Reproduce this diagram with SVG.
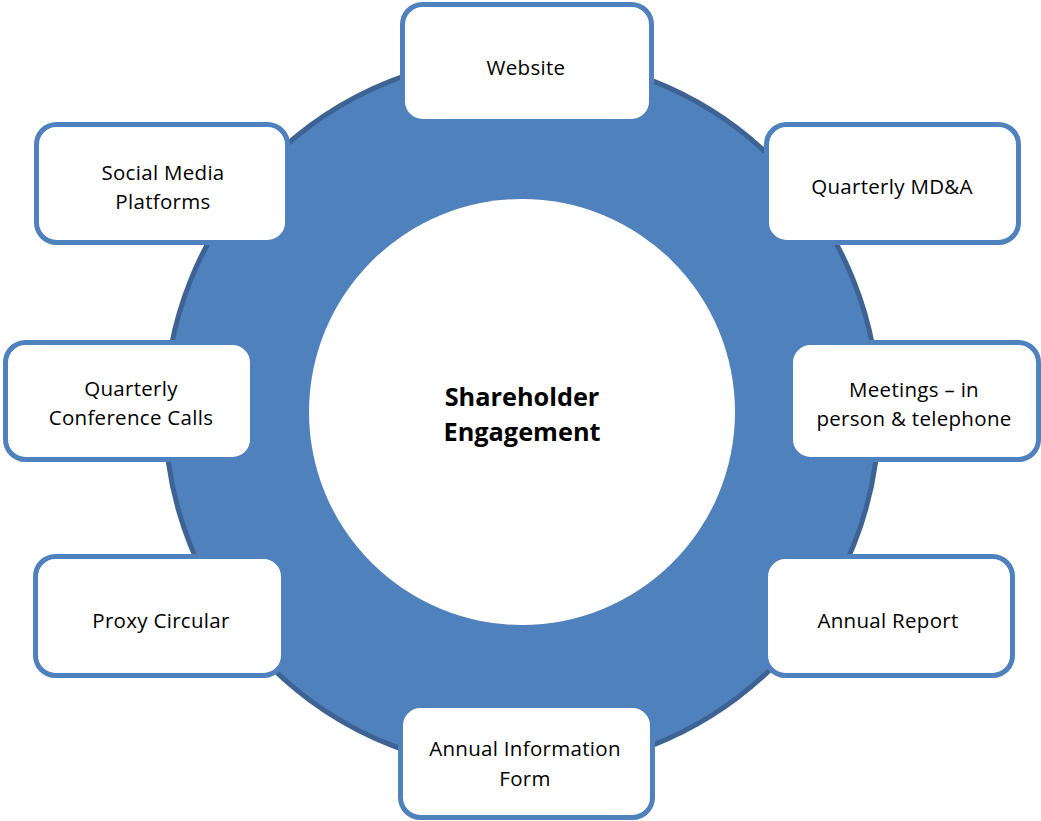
<svg xmlns="http://www.w3.org/2000/svg" width="1041" height="821" viewBox="0 0 1041 821">
<style>
.box{fill:#FFFFFF;stroke:#4F81BD;stroke-width:5}
.lbl{font-family:"Open Sans","Liberation Sans",sans-serif;font-size:20.5px;letter-spacing:0.3px;fill:#000000;text-anchor:middle}
.ctr{font-family:"Open Sans","Liberation Sans",sans-serif;font-size:25.3px;font-weight:bold;fill:#000000;text-anchor:middle}
</style>
<rect x="0" y="0" width="1041" height="821" fill="#FFFFFF"/>
<g id="ring">
<circle cx="522" cy="413" r="357" fill="#4F81BD" stroke="#3D6394" stroke-width="5"/>
<circle cx="522" cy="412" r="213" fill="#FFFFFF"/>
<text class="ctr" x="522" y="406">Shareholder</text>
<text class="ctr" x="522" y="441">Engagement</text>
</g>
<g id="connectors"></g>
<g id="website">
<rect class="box" x="402.5" y="4.5" width="249" height="117" rx="20"/>
<text class="lbl" x="526" y="75">Website</text>
</g>
<g id="social">
<rect class="box" x="36.5" y="124.5" width="251" height="118" rx="20"/>
<text class="lbl" x="163" y="180">Social Media</text>
<text class="lbl" x="163" y="209">Platforms</text>
</g>
<g id="mda">
<rect class="box" x="766.5" y="124.5" width="252" height="118" rx="20"/>
<text class="lbl" x="892" y="194">Quarterly MD&amp;A</text>
</g>
<g id="calls">
<rect class="box" x="5.5" y="342.5" width="247" height="117" rx="20"/>
<text class="lbl" x="131" y="396">Quarterly</text>
<text class="lbl" x="131" y="425">Conference Calls</text>
</g>
<g id="meetings">
<rect class="box" x="790.5" y="342.5" width="248" height="117" rx="20"/>
<text class="lbl" x="914" y="397">Meetings – in</text>
<text class="lbl" x="914" y="426">person &amp; telephone</text>
</g>
<g id="proxy">
<rect class="box" x="35.5" y="556.5" width="248" height="119" rx="20"/>
<text class="lbl" x="161" y="628">Proxy Circular</text>
</g>
<g id="annual-report">
<rect class="box" x="765.5" y="556.5" width="247" height="119" rx="20"/>
<text class="lbl" x="888" y="628">Annual Report</text>
</g>
<g id="aif">
<rect class="box" x="400.5" y="705.5" width="252" height="112" rx="20"/>
<text class="lbl" x="525" y="756">Annual Information</text>
<text class="lbl" x="525" y="786">Form</text>
</g>
</svg>
